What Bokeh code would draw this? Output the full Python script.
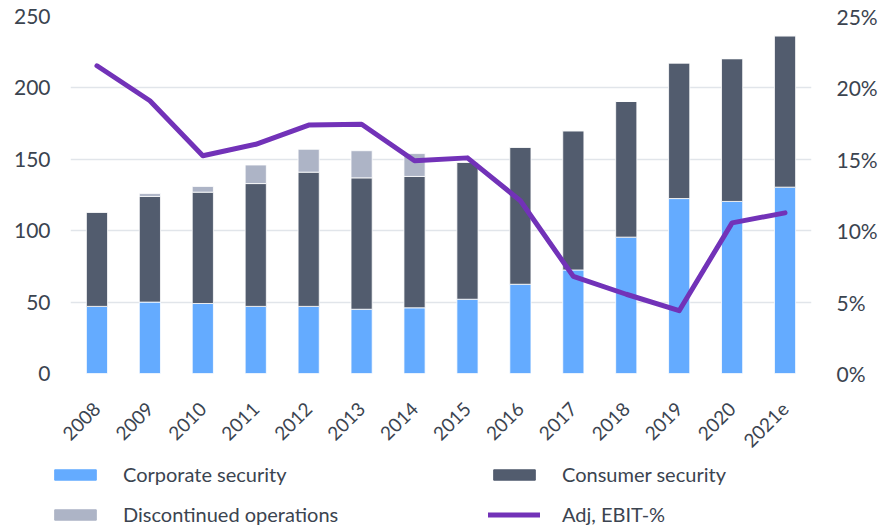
import math
from bokeh.plotting import figure
from bokeh.models import (Range1d, FactorRange, LinearAxis, Legend, LegendItem,
                          FixedTicker, ColumnDataSource)
from bokeh.embed import file_html
from bokeh.resources import INLINE

years = ["2008", "2009", "2010", "2011", "2012", "2013", "2014", "2015",
         "2016", "2017", "2018", "2019", "2020", "2021e"]
corporate = [47, 50, 49, 47, 47, 45, 46, 52, 62.5, 72.5, 95.5, 122.5, 120.5, 130.5]
consumer = [66, 74, 78, 86, 94, 92, 92, 96, 96, 97.5, 95, 95, 100, 106]
discontinued = [0, 2, 4, 13, 16, 19, 16, 0, 0, 0, 0, 0, 0, 0]
ebit_pct = [21.55, 19.1, 15.25, 16.05, 17.4, 17.45, 14.9, 15.1, 12.1, 6.8,
            5.55, 4.4, 10.55, 11.25]

left_ticks = [0, 50, 100, 150, 200, 250]
right_ticks = [0, 5, 10, 15, 20, 25]

FONT = "Lato"
TXT = "#3b4450"
C_CORP = "#64abff"
C_CONS = "#525c6e"
C_DISC = "#adb4c6"
C_LINE = "#7232b8"

src = ColumnDataSource(dict(year=years, corp=corporate, cons=consumer,
                            disc=discontinued, ebit=ebit_pct))

p = figure(width=880, height=456, x_range=FactorRange(*years, range_padding=0),
           y_range=Range1d(0, 250), output_backend="svg", toolbar_location=None,
           min_border_left=70, min_border_right=63, min_border_top=16,
           min_border_bottom=79)
p.outline_line_color = None
p.extra_y_ranges = {"pct": Range1d(0, 25)}

bar_names = ["corp", "cons", "disc"]
bar_colors = [C_CORP, C_CONS, C_DISC]
rs = p.vbar_stack(bar_names, x="year", width=0.4, source=src,
                  color=bar_colors, line_color="white", line_width=0.8)
r_line = p.line(x="year", y="ebit", source=src, y_range_name="pct",
                line_color=C_LINE, line_width=5, line_join="round",
                line_cap="round")

# axes
p.yaxis.ticker = FixedTicker(ticks=left_ticks)
for ax in p.yaxis:
    ax.axis_line_color = None
    ax.major_tick_line_color = None
    ax.minor_tick_line_color = None
    ax.major_label_text_font = FONT
    ax.major_label_text_font_size = "21px"
    ax.major_label_text_color = TXT
    ax.major_label_standoff = 14

raxis = LinearAxis(y_range_name="pct", ticker=FixedTicker(ticks=right_ticks),
                   major_label_overrides={t: f"{t}%" for t in right_ticks})
raxis.axis_line_color = None
raxis.major_tick_line_color = None
raxis.minor_tick_line_color = None
raxis.major_label_text_font = FONT
raxis.major_label_text_font_size = "21px"
raxis.major_label_text_color = TXT
raxis.major_label_standoff = 19
p.add_layout(raxis, "right")

xa = p.xaxis[0]
xa.axis_line_color = None
xa.major_tick_line_color = None
xa.minor_tick_line_color = None
xa.major_label_orientation = math.pi / 4
xa.major_label_text_font = FONT
xa.major_label_text_font_size = "19px"
xa.major_label_text_color = TXT
xa.major_label_standoff = 26

p.xgrid.grid_line_color = None
p.ygrid.ticker = FixedTicker(ticks=left_ticks)
p.ygrid.grid_line_color = "#e1e5ea"
p.ygrid.grid_line_width = 1.5

# legend strip: a separate root figure whose frame covers its whole area
q = figure(width=880, height=70, x_range=Range1d(0, 1), y_range=Range1d(0, 1),
           output_backend="svg", toolbar_location=None,
           x_axis_location=None, y_axis_location=None,
           min_border_left=0, min_border_right=0, min_border_top=0,
           min_border_bottom=0)
q.outline_line_color = None
q.grid.grid_line_color = None

# legend proxies: placed outside the visible range
proxy = ColumnDataSource(dict(x=[-5, -4], top=[0, 0], y=[0, 0]))
lr = {}
for name, col in zip(bar_names, bar_colors):
    lr[name] = q.vbar(x="x", top="top", width=0.1, source=proxy, color=col)
lr["ebit"] = q.line(x="x", y="y", source=proxy, line_color=C_LINE,
                    line_width=5, line_cap="round")


def make_legend(items, x, y):
    return Legend(items=items, location=(x, y), orientation="vertical",
                  padding=0, margin=0, spacing=16, glyph_width=52,
                  glyph_height=13, label_standoff=22, label_height=24,
                  label_text_font=FONT, label_text_font_size="20px",
                  label_text_color=TXT, border_line_color=None,
                  background_fill_alpha=0)


lg1 = make_legend([LegendItem(label="Corporate security", renderers=[lr["corp"]]),
                   LegendItem(label="Discontinued operations", renderers=[lr["disc"]])],
                  49, 0)
lg2 = make_legend([LegendItem(label="Consumer security", renderers=[lr["cons"]]),
                   LegendItem(label="Adj, EBIT-%", renderers=[lr["ebit"]])],
                  488, 0)
q.add_layout(lg1, "center")
q.add_layout(lg2, "center")

open("out.html", "w").write(file_html([p, q], INLINE))
